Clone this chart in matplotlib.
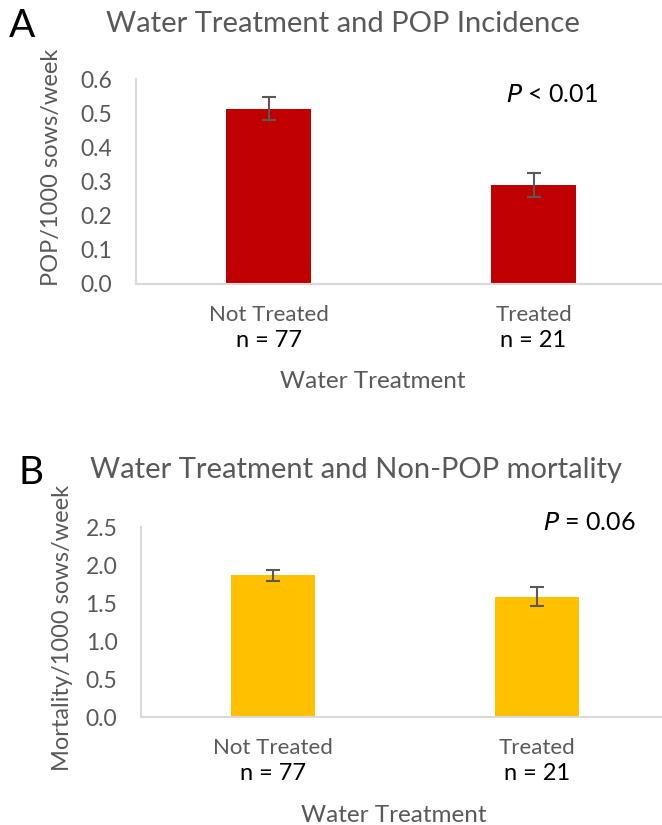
import matplotlib.pyplot as plt
import numpy as np

plt.rcParams["font.family"] = ["Lato", "DejaVu Sans"]

categories = ["Not Treated", "Treated"]
n_labels = ["n = 77", "n = 21"]

pop_values = [0.513, 0.290]
pop_err = [0.034, 0.036]

mort_values = [1.862, 1.583]
mort_err = [0.077, 0.122]

W, H = 662, 825
fig = plt.figure(figsize=(W / 100, H / 100), dpi=100)

gray = "#595959"
spine_col = "#D9D9D9"


def px(x, y):
    # pixel coords (top-left origin) -> figure fraction
    return x / W, 1 - y / H


def panel(rect, values, err, color, ylim, yticks):
    ax = fig.add_axes(rect)
    x = np.arange(len(categories))
    ax.bar(x, values, width=0.32, color=color, zorder=2)
    ax.errorbar(x, values, yerr=err, fmt="none", ecolor=gray,
                elinewidth=1.5, capsize=5, capthick=1.5, zorder=3)
    ax.set_xlim(-0.5, 1.5)
    ax.set_ylim(*ylim)
    ax.set_yticks(yticks)
    ax.set_yticklabels([f"{t:.1f}" for t in yticks])
    ax.set_xticks(x)
    ax.set_xticklabels(categories)
    ax.tick_params(length=0, labelcolor=gray)
    ax.tick_params(axis="y", pad=17, labelsize=16.5)
    ax.tick_params(axis="x", pad=15, labelsize=16)
    for s in ["top", "right"]:
        ax.spines[s].set_visible(False)
    for s in ["left", "bottom"]:
        ax.spines[s].set_color(spine_col)
        ax.spines[s].set_linewidth(1.5)
    # sample sizes sit a fixed distance under the category labels
    for xi, lab in zip(x, n_labels):
        ax.annotate(lab, (xi, 0), xycoords=("data", "axes fraction"),
                    xytext=(0, -41), textcoords="offset points",
                    ha="center", va="center", fontsize=17, color="black")
    return ax


axA = panel([136 / W, 1 - 284 / H, 530 / W, 205 / H], pop_values, pop_err,
            "#C00000", (0, 0.6), np.arange(0, 0.61, 0.1))
axB = panel([141 / W, 1 - 717 / H, 528 / W, 190 / H], mort_values, mort_err,
            "#FFC000", (0, 2.5), np.arange(0, 2.51, 0.5))

# titles, panel letters, axis labels
fig.text(*px(343, 24), "Water Treatment and POP Incidence", ha="center",
         va="center", fontsize=21, color=gray)
fig.text(*px(22, 26), "A", ha="center", va="center", fontsize=28)
fig.text(*px(356, 470), "Water Treatment and Non-POP mortality", ha="center",
         va="center", fontsize=21, color=gray)
fig.text(*px(31, 473), "B", ha="center", va="center", fontsize=28)

fig.text(*px(52, 167), "POP/1000 sows/week", rotation=90, ha="center",
         va="center", fontsize=17, color=gray)
fig.text(*px(63, 628), "Mortality/1000 sows/week", rotation=90, ha="center",
         va="center", fontsize=17, color=gray)

fig.text(*px(373, 382), "Water Treatment", ha="center", va="center",
         fontsize=17.5, color=gray)
fig.text(*px(394, 815), "Water Treatment", ha="center", va="center",
         fontsize=17.5, color=gray)

fig.text(*px(552, 95), r"$\it{P}$ < 0.01", ha="center", va="center",
         fontsize=18)
fig.text(*px(589, 522), r"$\it{P}$ = 0.06", ha="center", va="center",
         fontsize=18)

fig.savefig("out.png", dpi=100)
